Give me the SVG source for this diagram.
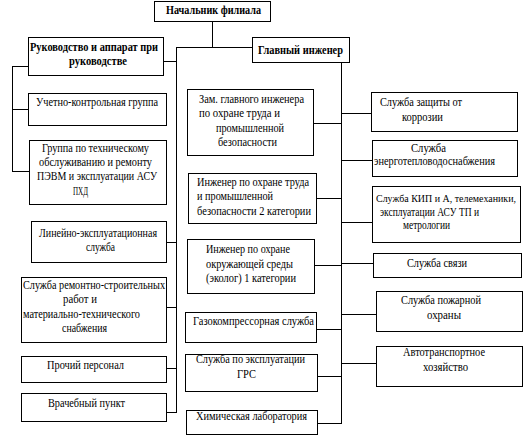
<svg xmlns="http://www.w3.org/2000/svg" width="528" height="435" viewBox="0 0 528 435">
<style>
rect{fill:#fff;stroke:#000;stroke-width:1}
.c line{stroke:#000;stroke-width:1}
text{font-family:"Liberation Serif","Times New Roman",serif;font-size:12px;fill:#000}
.b{font-weight:bold}
</style>
<rect x="0" y="0" width="528" height="435" style="stroke:none"/>
<g class="c" id="connectors" shape-rendering="crispEdges">
<line x1="212.5" y1="21" x2="212.5" y2="47"/>
<line x1="176" y1="47.5" x2="252" y2="47.5"/>
<line x1="163" y1="61.5" x2="176" y2="61.5"/>
<line x1="176.5" y1="47" x2="176.5" y2="412"/>
<line x1="12" y1="66.5" x2="28" y2="66.5"/>
<line x1="12.5" y1="66" x2="12.5" y2="171"/>
<line x1="12" y1="109.5" x2="28" y2="109.5"/>
<line x1="12" y1="171.5" x2="29" y2="171.5"/>
<line x1="166" y1="242.5" x2="176" y2="242.5"/>
<line x1="166" y1="307.5" x2="176" y2="307.5"/>
<line x1="166" y1="368.5" x2="176" y2="368.5"/>
<line x1="166" y1="412.5" x2="177" y2="412.5"/>
<line x1="341.5" y1="62" x2="341.5" y2="423"/>
<line x1="313" y1="123.5" x2="341" y2="123.5"/>
<line x1="316" y1="198.5" x2="341" y2="198.5"/>
<line x1="314" y1="265.5" x2="341" y2="265.5"/>
<line x1="316" y1="329.5" x2="341" y2="329.5"/>
<line x1="317" y1="376.5" x2="341" y2="376.5"/>
<line x1="317" y1="423.5" x2="342" y2="423.5"/>
<line x1="341" y1="113.5" x2="371" y2="113.5"/>
<line x1="341" y1="160.5" x2="372" y2="160.5"/>
<line x1="341" y1="222.5" x2="372" y2="222.5"/>
<line x1="341" y1="263.5" x2="373" y2="263.5"/>
<line x1="341" y1="314.5" x2="376" y2="314.5"/>
<line x1="341" y1="363.5" x2="376" y2="363.5"/>
</g>
<g id="chief"><rect x="154.5" y="1.5" width="116" height="20"/><text class="b" x="166" y="14" textLength="95" lengthAdjust="spacingAndGlyphs">Начальник филиала</text></g>
<g id="management"><rect x="28.5" y="37.5" width="135" height="38"/><text class="b" x="30" y="51" textLength="128" lengthAdjust="spacingAndGlyphs">Руководство и аппарат при</text><text class="b" x="69" y="65" textLength="58" lengthAdjust="spacingAndGlyphs">руководстве</text></g>
<g id="chief-engineer"><rect x="252.5" y="37.5" width="97" height="25"/><text class="b" x="258" y="54" textLength="85" lengthAdjust="spacingAndGlyphs">Главный инженер</text></g>

<g id="accounting"><rect x="28.5" y="93.5" width="138" height="32"/><text x="36" y="106" textLength="122" lengthAdjust="spacingAndGlyphs">Учетно-контрольная группа</text></g>
<g id="pc-group"><rect x="29.5" y="140.5" width="137" height="64"/><text x="42" y="152" textLength="107" lengthAdjust="spacingAndGlyphs">Группа по техническому</text><text x="39" y="166" textLength="113" lengthAdjust="spacingAndGlyphs">обслуживанию и ремонту</text><text x="37" y="180" textLength="120" lengthAdjust="spacingAndGlyphs">ПЭВМ и эксплуатации АСУ</text><text x="73" y="195" textLength="15" lengthAdjust="spacingAndGlyphs">ПХД</text></g>
<g id="linear"><rect x="31.5" y="221.5" width="135" height="41"/><text x="39" y="237" textLength="118" lengthAdjust="spacingAndGlyphs">Линейно-эксплуатационная</text><text x="86" y="251" textLength="29" lengthAdjust="spacingAndGlyphs">служба</text></g>
<g id="repair"><rect x="21.5" y="277.5" width="145" height="65"/><text x="23" y="289" textLength="142" lengthAdjust="spacingAndGlyphs">Служба ремонтно-строительных</text><text x="63" y="303" textLength="34" lengthAdjust="spacingAndGlyphs">работ и</text><text x="23" y="318" textLength="117" lengthAdjust="spacingAndGlyphs">материально-технического</text><text x="62" y="332" textLength="45" lengthAdjust="spacingAndGlyphs">снабжения</text></g>
<g id="other"><rect x="21.5" y="356.5" width="145" height="26"/><text x="47" y="369" textLength="77" lengthAdjust="spacingAndGlyphs">Прочий персонал</text></g>
<g id="medical"><rect x="21.5" y="393.5" width="145" height="28"/><text x="48" y="407" textLength="77" lengthAdjust="spacingAndGlyphs">Врачебный пункт</text></g>

<g id="deputy"><rect x="187.5" y="89.5" width="126" height="66"/><text x="199" y="103" textLength="105" lengthAdjust="spacingAndGlyphs">Зам. главного инженера</text><text x="199" y="117" textLength="81" lengthAdjust="spacingAndGlyphs">по охране труда и</text><text x="216" y="132" textLength="68" lengthAdjust="spacingAndGlyphs">промышленной</text><text x="218" y="146" textLength="59" lengthAdjust="spacingAndGlyphs">безопасности</text></g>
<g id="safety-eng"><rect x="188.5" y="173.5" width="128" height="50"/><text x="197" y="186" textLength="112" lengthAdjust="spacingAndGlyphs">Инженер по охране труда</text><text x="197" y="200" textLength="76" lengthAdjust="spacingAndGlyphs">и промышленной</text><text x="197" y="215" textLength="114" lengthAdjust="spacingAndGlyphs">безопасности 2 категории</text></g>
<g id="ecologist"><rect x="187.5" y="239.5" width="127" height="54"/><text x="206" y="253" textLength="84" lengthAdjust="spacingAndGlyphs">Инженер по охране</text><text x="206" y="268" textLength="87" lengthAdjust="spacingAndGlyphs">окружающей среды</text><text x="206" y="282" textLength="90" lengthAdjust="spacingAndGlyphs">(эколог) 1 категории</text></g>
<g id="gas-compressor"><rect x="185.5" y="312.5" width="131" height="30"/><text x="193" y="325" textLength="121" lengthAdjust="spacingAndGlyphs">Газокомпрессорная служба</text></g>
<g id="grs"><rect x="185.5" y="354.5" width="132" height="37"/><text x="196" y="363" textLength="109" lengthAdjust="spacingAndGlyphs">Служба по эксплуатации</text><text x="237" y="378" textLength="19" lengthAdjust="spacingAndGlyphs">ГРС</text></g>
<g id="chem-lab"><rect x="186.5" y="410.5" width="131" height="24"/><text x="196" y="420" textLength="111" lengthAdjust="spacingAndGlyphs">Химическая лаборатория</text></g>

<g id="corrosion"><rect x="371.5" y="92.5" width="146" height="39"/><text x="380" y="106" textLength="82" lengthAdjust="spacingAndGlyphs">Служба защиты от</text><text x="402" y="121" textLength="41" lengthAdjust="spacingAndGlyphs">коррозии</text></g>
<g id="energy"><rect x="372.5" y="140.5" width="145" height="36"/><text x="411" y="152" textLength="35" lengthAdjust="spacingAndGlyphs">Служба</text><text x="374" y="165" textLength="121" lengthAdjust="spacingAndGlyphs">энерготепловодоснабжения</text></g>
<g id="kip"><rect x="372.5" y="186.5" width="148" height="56"/><text x="376" y="202" style="font-size:10px" textLength="140" lengthAdjust="spacingAndGlyphs">Служба КИП и А, телемеханики,</text><text x="380" y="216" textLength="99" lengthAdjust="spacingAndGlyphs">эксплуатации АСУ ТП и</text><text x="403" y="229" textLength="47" lengthAdjust="spacingAndGlyphs">метрологии</text></g>
<g id="communication"><rect x="373.5" y="253.5" width="148" height="24"/><text x="407" y="267" textLength="60" lengthAdjust="spacingAndGlyphs">Служба связи</text></g>
<g id="fire"><rect x="376.5" y="291.5" width="146" height="40"/><text x="401" y="304" textLength="80" lengthAdjust="spacingAndGlyphs">Служба пожарной</text><text x="427" y="319" textLength="34" lengthAdjust="spacingAndGlyphs">охраны</text></g>
<g id="transport"><rect x="376.5" y="346.5" width="146" height="40"/><text x="403" y="356" textLength="82" lengthAdjust="spacingAndGlyphs">Автотранспортное</text><text x="423" y="371" textLength="45" lengthAdjust="spacingAndGlyphs">хозяйство</text></g>
</svg>
